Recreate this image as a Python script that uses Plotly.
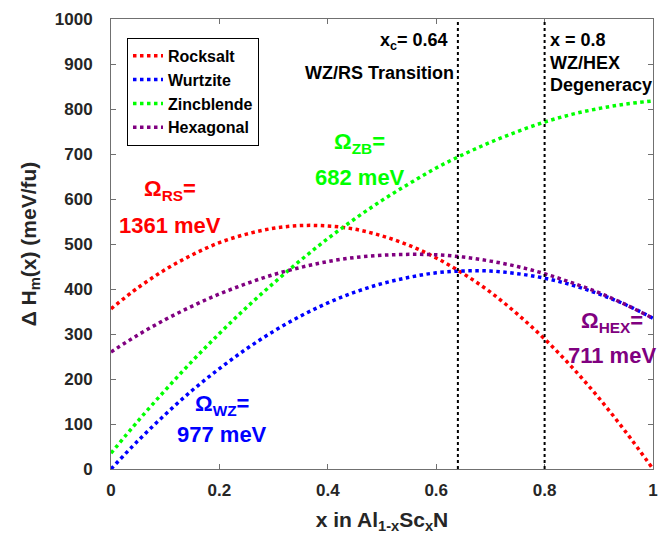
import plotly.graph_objects as go

x_vals = [0, 0.05, 0.1, 0.15, 0.2, 0.25, 0.3, 0.35, 0.4, 0.45, 0.5,
          0.55, 0.6, 0.65, 0.7, 0.75, 0.8, 0.85, 0.9, 0.95, 1.0]
rocksalt = [356, 403, 443, 476, 503, 522, 535, 541, 540, 533, 518,
            497, 469, 434, 393, 344, 289, 227, 158, 82, 0]
wurtzite = [0, 63, 121, 175, 223, 267, 306, 340, 369, 393, 412,
            426, 436, 440, 440, 434, 424, 409, 389, 365, 335]
zincblende = [35, 107, 175, 240, 301, 359, 413, 464, 512, 556, 597,
              634, 669, 699, 726, 750, 771, 788, 801, 811, 818]
hexagonal = [260, 298, 332, 362, 389, 412, 432, 448, 461, 470, 475,
             477, 476, 471, 462, 450, 434, 414, 392, 365, 335]

series_names = ["Rocksalt", "Wurtzite", "Zincblende", "Hexagonal"]
series_colors = ["#ff0000", "#0000ff", "#00ff00", "#800080"]
series_values = [rocksalt, wurtzite, zincblende, hexagonal]

x_ticks = [0, 0.2, 0.4, 0.6, 0.8, 1]
x_tick_labels = ["0", "0.2", "0.4", "0.6", "0.8", "1"]
y_ticks = list(range(0, 1001, 100))

x_transition = 0.64
x_degeneracy = 0.8

FONT = "Liberation Sans, Arial, sans-serif"

fig = go.Figure()
for name, col, vals in zip(series_names, series_colors, series_values):
    fig.add_trace(go.Scatter(
        x=x_vals, y=vals, mode="lines", name=name,
        line=dict(color=col, width=3.5, dash="dot", shape="spline"),
    ))

for xv in (x_transition, x_degeneracy):
    fig.add_shape(type="line", x0=xv, x1=xv, y0=0, y1=1000,
                  xref="x", yref="y",
                  line=dict(color="black", width=2, dash="dot"))

def ann(text, x, y, color, size, xanchor="center"):
    fig.add_annotation(text=text, x=x, y=y, xref="x", yref="y",
                       showarrow=False, xanchor=xanchor, yanchor="middle",
                       font=dict(family=FONT, size=size, color=color,
                                 weight="bold"))

ann("Ω<sub>RS</sub>=", 0.109, 620, "#ff0000", 22)
ann("1361 meV", 0.109, 542, "#ff0000", 22)
ann("Ω<sub>ZB</sub>=", 0.459, 724, "#00ff00", 22)
ann("682 meV", 0.459, 647, "#00ff00", 22)
ann("Ω<sub>WZ</sub>=", 0.205, 142, "#0000ff", 22)
ann("977 meV", 0.205, 76, "#0000ff", 22)
ann("Ω<sub>HEX</sub>=", 0.924, 327, "#800080", 22)
ann("711 meV", 0.924, 253, "#800080", 22)

ann("x<sub>c</sub>= 0.64", 0.625, 949, "black", 18, "right")
ann("WZ/RS Transition", 0.637, 880, "black", 18, "right")
ann("x = 0.8", 0.806, 953, "black", 18, "left")
ann("WZ/HEX", 0.806, 902, "black", 18, "left")
ann("Degeneracy", 0.806, 853, "black", 18, "left")

axis_common = dict(
    showline=True, linecolor="#707070", linewidth=1, mirror="ticks",
    ticks="inside", ticklen=5, tickcolor="#707070",
    showgrid=False, zeroline=False, automargin=False,
    tickfont=dict(family=FONT, size=17, color="#262626", weight="bold"),
)

fig.update_xaxes(range=[0, 1], tickvals=x_ticks, ticktext=x_tick_labels,
                 ticklabelstandoff=6,
                 title=dict(text="x in Al<sub>1-x</sub>Sc<sub>x</sub>N",
                            font=dict(family=FONT, size=21, color="#262626",
                                      weight="bold"), standoff=12),
                 **axis_common)
fig.update_yaxes(range=[0, 1000], tickvals=y_ticks,
                 ticklabelstandoff=14,
                 title=dict(text="Δ H<sub>m</sub>(x) (meV/fu)",
                            font=dict(family=FONT, size=21, color="#262626",
                                      weight="bold"), standoff=12),
                 **axis_common)

fig.update_layout(
    width=661, height=529,
    margin=dict(l=103, r=16, t=11, b=68),
    plot_bgcolor="white", paper_bgcolor="white",
    showlegend=True,
    legend=dict(x=0.0295, y=0.958, xanchor="left", yanchor="top",
                bgcolor="white", bordercolor="black", borderwidth=1,
                font=dict(family=FONT, size=16, color="black", weight="bold"),
                tracegroupgap=0, itemwidth=30),
)

fig.write_html("out.html")
